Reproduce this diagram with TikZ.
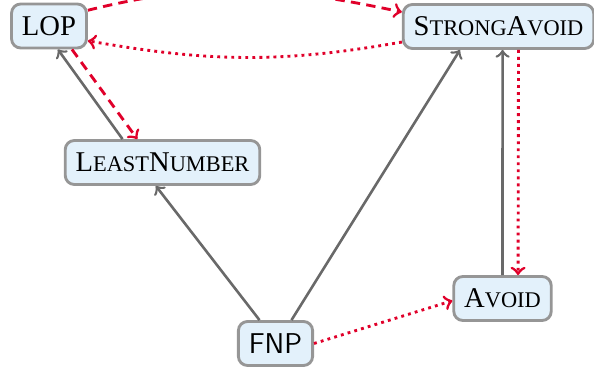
\documentclass[tikz,border=0pt]{standalone}
\usepackage{fontspec}
\setmainfont{Liberation Serif}
\definecolor{boxfill}{RGB}{227,241,251}
\definecolor{boxline}{RGB}{150,150,150}
\definecolor{edgegray}{RGB}{105,105,105}
\definecolor{edgered}{RGB}{224,0,42}
\newcommand{\fakesc}[2]{#1{\fontsize{8.6}{10}\selectfont #2}}

\begin{document}
\begin{tikzpicture}[x=0.0135cm,y=0.0135cm,
    box/.style={draw=boxline,line width=1.1pt,fill=boxfill,rounded corners=3.5pt,
      minimum height=0.594cm,inner xsep=4pt,font=\fontsize{11}{13}\selectfont},
    gline/.style={draw=edgegray,line width=1pt,->},
    rdash/.style={draw=edgered,line width=1.1pt,dash pattern=on 3.6pt off 2.4pt,->},
    rdot/.style={draw=edgered,line width=1.1pt,dash pattern=on 1.1pt off 1.6pt,->}]
    \useasboundingbox (0,0) rectangle (594,371);
    % Nodes
    \node[box] (lop) at (49,345) {LOP};
    \node[box] (sa) at (498.5,344.5) {\fakesc{S}{TRONG}\fakesc{A}{VOID}};
    \node[box] (ln) at (162.5,208.5) {\fakesc{L}{EAST}\fakesc{N}{UMBER}};
    \node[box] (av) at (502.5,72.5) {\fakesc{A}{VOID}};
    \node[box,font=\fontsize{11}{13}\sffamily] (fnp) at (275.5,27.5) {FNP};
    % Gray edges
    \draw[gline] ([xshift=-0.54cm]ln.north) -- ([xshift=0.12cm]lop.south);
    \draw[gline] ([xshift=-0.216cm]fnp.north) -- ([xshift=-0.09cm]ln.south);
    \draw[gline] ([xshift=0.216cm]fnp.north) -- ([xshift=-0.52cm]sa.south);
    \draw[gline] (av.north) -- ([xshift=0.055cm]sa.south);
    % Red edges
    \draw[rdash] ([xshift=0.31cm]lop.south) -- ([xshift=-0.34cm]ln.north);
    \draw[rdash] (lop.22) to[out=14,in=168] ([yshift=0.195cm]sa.west);
    \draw[rdot] ([yshift=-0.21cm]sa.west) to[out=190,in=-10] ([yshift=-0.2cm]lop.east);
    \draw[rdot] ([xshift=0.27cm]sa.south) -- ([xshift=0.21cm]av.north);
    \draw[rdot] (fnp.east) -- ([yshift=-0.03cm]av.west);
\end{tikzpicture}
\end{document}
